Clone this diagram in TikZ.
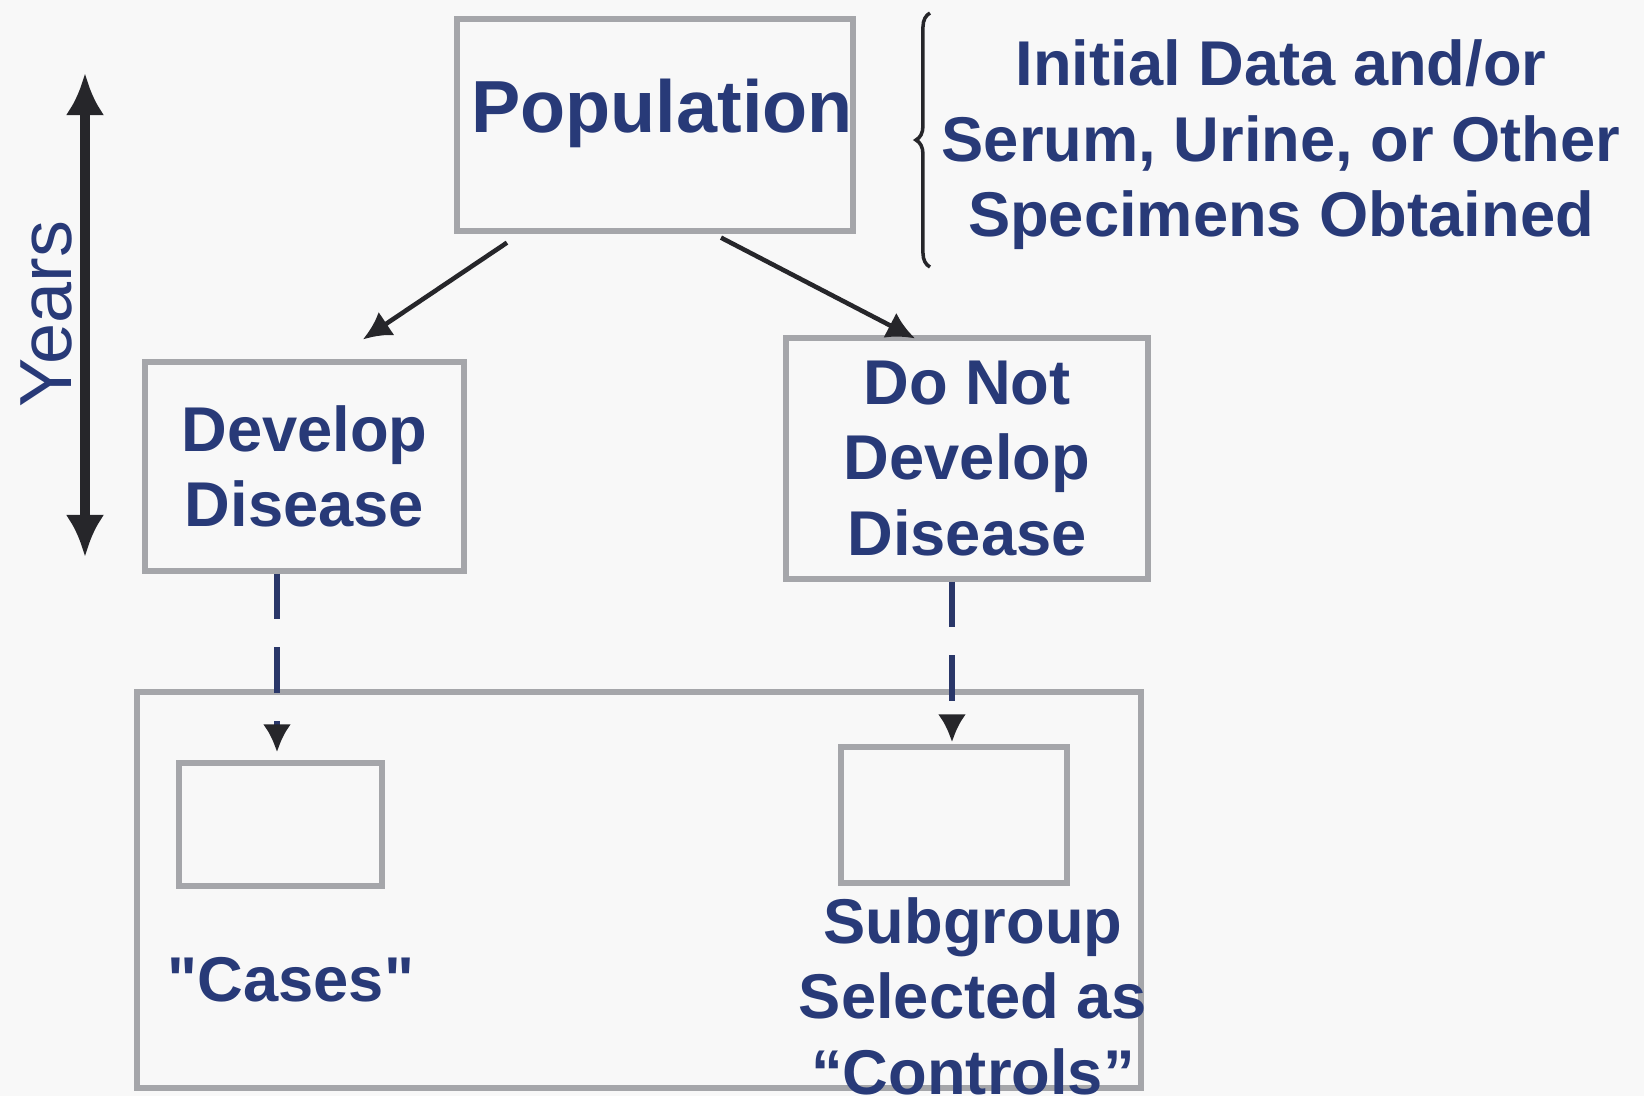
\documentclass[tikz,border=0pt]{standalone}
\usepackage{fontspec}
\setmainfont{Liberation Sans}[Ligatures=TeXOff]
\usetikzlibrary{arrows.meta, decorations.pathreplacing}
\definecolor{labelblue}{RGB}{40,58,120}
\definecolor{boxgrey}{RGB}{165,166,170}
\definecolor{arrowblack}{RGB}{38,38,42}
\definecolor{dashblue}{RGB}{42,55,105}
\definecolor{bggrey}{RGB}{248,248,248}

\begin{document}
\begin{tikzpicture}[>=Latex,
  box/.style={draw=boxgrey, line width=1.5pt, rectangle, inner sep=0pt},
  lbl/.style={text=labelblue, font=\bfseries\fontsize{18}{21.5}\selectfont, align=center},
  arr/.style={-{Latex[length=8pt,width=8pt]}, line width=1.3pt, arrowblack},
  dasharr/.style={-{Latex[length=8pt,width=8pt,color=arrowblack]}, line width=1.5pt, dashblue,
                  dash pattern=on 13pt off 8pt}]
  % canvas
  \fill[bggrey] (0,0) rectangle (16.44,-10.96);
  \useasboundingbox (0,0) rectangle (16.44,-10.96);

  % whole population
  \node[box, minimum width=3.96cm, minimum height=2.12cm] (pop) at (6.55,-1.25) {};
  \node[lbl, font=\bfseries\fontsize{21}{25}\selectfont, anchor=base] (poptext) at (6.62,-1.32) {Population};

  % specimens at baseline
  \coordinate (btop) at (9.30,-0.13);
  \coordinate (bbot) at (9.30,-2.67);
  \draw[decorate, decoration={brace, amplitude=4pt}, line width=1pt, arrowblack] (bbot) -- (btop);
  \node[lbl] (spectext) at (12.81,-1.45) {Initial Data and/or\\Serum, Urine, or Other\\Specimens Obtained};

  % follow-up time
  \coordinate (ytop) at (0.85,-0.73);
  \coordinate (ybot) at (0.85,-5.57);
  \draw[{Latex[length=12pt,width=11pt]}-{Latex[length=12pt,width=11pt]}, line width=3pt, arrowblack] (ytop) -- (ybot);
  \node[text=labelblue, font=\fontsize{21}{25}\selectfont, rotate=90] (years) at (0.46,-3.14) {Years};

  % outcome groups
  \node[box, lbl, minimum width=3.19cm, minimum height=2.09cm] (dev) at (3.045,-4.665) {Develop\\Disease};
  \node[box, lbl, minimum width=3.62cm, minimum height=2.41cm] (donot) at (9.67,-4.585) {Do Not\\Develop\\Disease};

  \draw[arr] ([xshift=-1.48cm,yshift=-0.09cm]pop.south) -- ([xshift=0.585cm,yshift=0.2cm]dev.north);
  \draw[arr] ([xshift=0.66cm,yshift=-0.04cm]pop.south) -- ([xshift=-0.52cm,yshift=-0.03cm]donot.north);

  % case-control study
  \node[box, minimum width=10.04cm, minimum height=3.96cm] (frame) at (6.39,-8.90) {};
  \node[box, minimum width=2.03cm, minimum height=1.23cm] (cases) at (2.805,-8.245) {};
  \node[box, minimum width=2.26cm, minimum height=1.36cm] (ctrl) at (9.54,-8.15) {};
  \node[lbl] (casestext) at (2.91,-9.80) {"Cases"};
  \node[lbl] (ctrltext) at (9.73,-9.96) {Subgroup\\Selected as\\“Controls”};

  \draw[dasharr] ([xshift=-0.275cm]dev.south) -- ([xshift=-0.275cm,yshift=0.08cm]dev.south |- cases.north);
  \draw[dasharr] ([xshift=-0.15cm]donot.south) -- ([xshift=-0.15cm,yshift=0.02cm]donot.south |- ctrl.north);
\end{tikzpicture}
\end{document}
